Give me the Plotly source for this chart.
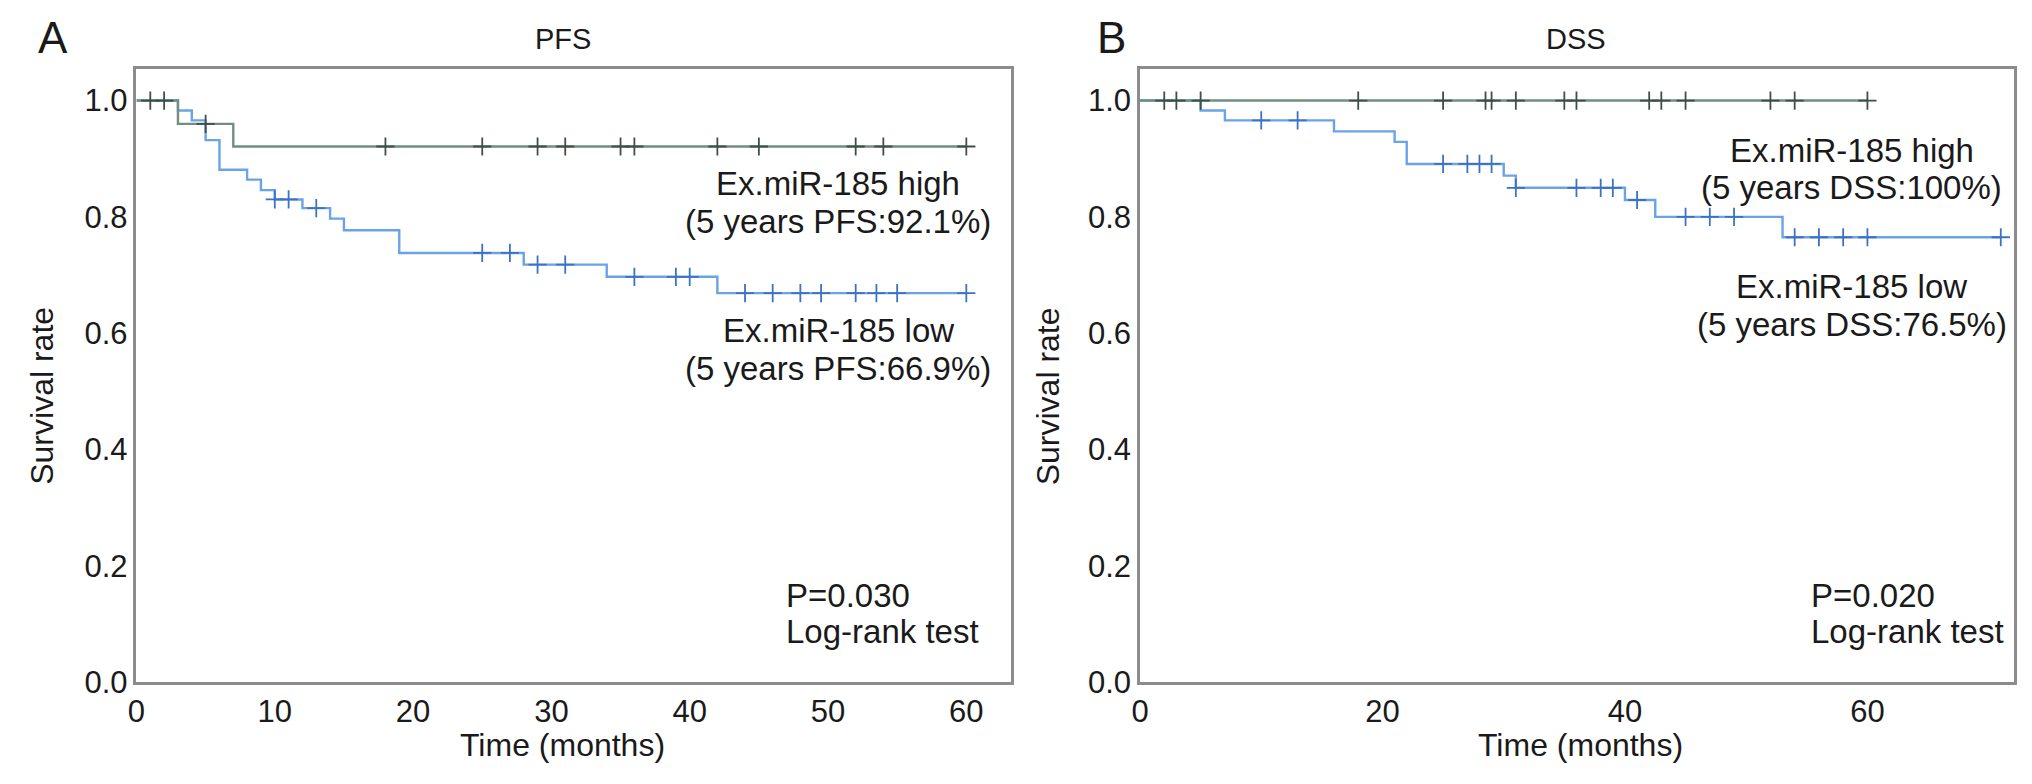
import plotly.graph_objects as go

W, H = 2032, 784

# ---------------- data ----------------
# PFS panel
pfs_high_t = [0, 3, 7, 60]
pfs_high_s = [1.0, 0.96, 0.921, 0.921]
pfs_high_cens = [1, 2, 5, 18, 25, 29, 31, 35, 36, 42, 45, 52, 54, 60]

pfs_low_t = [0, 3, 4, 5, 6, 8, 9, 10, 12, 14, 15, 19, 28, 34, 42, 60]
pfs_low_s = [1.0, 0.983, 0.966, 0.932, 0.881, 0.864, 0.846, 0.830, 0.815,
             0.797, 0.777, 0.738, 0.718, 0.697, 0.669, 0.669]
pfs_low_cens = [10, 11, 13, 25, 27, 29, 31, 36, 39, 40, 44, 46, 48, 49.5,
                52, 53.5, 55, 60]

# DSS panel
dss_high_t = [0, 60]
dss_high_s = [1.0, 1.0]
dss_high_cens = [2, 3, 5, 18, 25, 28.5, 29, 31, 35, 36, 42, 43, 45, 52, 54, 60]

dss_low_t = [0, 5, 7, 16, 21, 22, 30, 31, 40, 42.5, 53, 71]
dss_low_s = [1.0, 0.983, 0.966, 0.947, 0.929, 0.891, 0.871, 0.850, 0.829,
             0.800, 0.765, 0.765]
dss_low_cens = [10, 13, 25, 27, 28, 29, 31, 36, 38, 39, 41, 45, 47, 49, 54,
                56, 58, 60, 71]

y_ticks = [0, 0.2, 0.4, 0.6, 0.8, 1.0]
y_ticktext = ["0.0", "0.2", "0.4", "0.6", "0.8", "1.0"]
pfs_xticks = [0, 10, 20, 30, 40, 50, 60]
dss_xticks = [0, 20, 40, 60]

# ---------------- styles ----------------
HIGH_LINE = "#6f8f80"
HIGH_MARK = "#3e4f47"
LOW_LINE = "#6aa3e6"
LOW_MARK = "#3d72c2"
AXIS_COL = "#8c8c8c"
TXT = "#1a1a1a"
FONT = "Liberation Sans, Arial, Helvetica, sans-serif"


def surv_at(ts, ss, t):
    v = ss[0]
    for ti, si in zip(ts, ss):
        if ti <= t:
            v = si
    return v


fig = go.Figure()


def add_curve(ts, ss, cens, line_col, mark_col, xa, ya):
    fig.add_trace(go.Scatter(x=ts, y=ss, mode="lines", line_shape="hv",
                             line=dict(color=line_col, width=2.4),
                             xaxis=xa, yaxis=ya, showlegend=False,
                             hoverinfo="skip"))
    fig.add_trace(go.Scatter(x=cens, y=[surv_at(ts, ss, c) for c in cens],
                             mode="markers",
                             marker=dict(symbol="cross-thin", size=13,
                                         line=dict(color=mark_col, width=1.8)),
                             xaxis=xa, yaxis=ya, showlegend=False,
                             hoverinfo="skip"))


add_curve(pfs_low_t, pfs_low_s, pfs_low_cens, LOW_LINE, LOW_MARK, "x", "y")
add_curve(pfs_high_t, pfs_high_s, pfs_high_cens, HIGH_LINE, HIGH_MARK, "x", "y")
add_curve(dss_low_t, dss_low_s, dss_low_cens, LOW_LINE, LOW_MARK, "x2", "y2")
add_curve(dss_high_t, dss_high_s, dss_high_cens, HIGH_LINE, HIGH_MARK, "x2", "y2")

# ---------------- layout ----------------
def px_x(p):
    return p / W


def px_y(p):
    return (H - p) / H


box_top, box_bot = 62, 690
axis_common = dict(showline=True, mirror=True, linecolor=AXIS_COL, linewidth=2.5,
                   showgrid=False, zeroline=False, ticks="",
                   tickfont=dict(size=31, color=TXT, family=FONT))

fig.update_layout(
    width=W, height=H,
    margin=dict(l=0, r=0, t=0, b=0),
    paper_bgcolor="white", plot_bgcolor="white",
    font=dict(family=FONT, color=TXT),
    xaxis=dict(domain=[px_x(120), px_x(998)], range=[0, 63.2],
               tickvals=pfs_xticks, anchor="y", **axis_common),
    yaxis=dict(domain=[px_y(box_bot), px_y(box_top)], range=[0, 1.055],
               tickvals=y_ticks, ticktext=y_ticktext, anchor="x", **axis_common),
    xaxis2=dict(domain=[px_x(1128), px_x(2006)], range=[0, 72.1],
                tickvals=dss_xticks, anchor="y2", **axis_common),
    yaxis2=dict(domain=[px_y(box_bot), px_y(box_top)], range=[0, 1.055],
                tickvals=y_ticks, ticktext=y_ticktext, anchor="x2", **axis_common),
)

ann = []


def text(x, y, s, size, xanchor="center", angle=0):
    ann.append(dict(x=px_x(x), y=px_y(y), xref="paper", yref="paper", text=s,
                    showarrow=False, xanchor=xanchor, yanchor="middle",
                    textangle=angle, font=dict(size=size, color=TXT, family=FONT)))


# panel letters and titles
text(36, 30, "A", 44)
text(1099, 30, "B", 44)
text(548, 32, "PFS", 29)
text(1566, 32, "DSS", 29)
# axis titles
text(25, 397, "Survival rate", 32, angle=-90)
text(1035, 397, "Survival rate", 32, angle=-90)
text(548, 754, "Time (months)", 32)
text(1570, 754, "Time (months)", 32)
# curve labels PFS
text(825, 180, "Ex.miR-185 high", 33)
text(825, 219, "(5 years PFS:92.1%)", 33)
text(825, 330, "Ex.miR-185 low", 33)
text(825, 369, "(5 years PFS:66.9%)", 33)
# curve labels DSS
text(1843, 146, "Ex.miR-185 high", 33)
text(1843, 184, "(5 years DSS:100%)", 33)
text(1843, 285, "Ex.miR-185 low", 33)
text(1843, 324, "(5 years DSS:76.5%)", 33)
# p-values
text(770, 601, "P=0.030", 33, xanchor="left")
text(770, 638, "Log-rank test", 33, xanchor="left")
text(1800, 601, "P=0.020", 33, xanchor="left")
text(1800, 638, "Log-rank test", 33, xanchor="left")

fig.update_layout(annotations=ann)

fig.write_html("out.html")
